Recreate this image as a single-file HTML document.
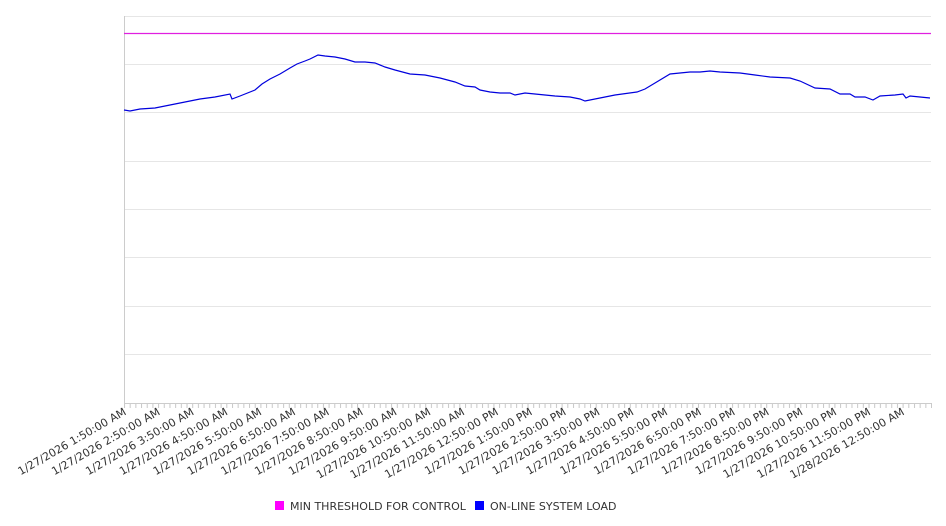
<!DOCTYPE html>
<html><head><meta charset="utf-8"><style>
html,body{margin:0;padding:0;background:#fff;}
svg{display:block;font-family:"DejaVu Sans","Liberation Sans",sans-serif;}
</style></head><body>
<svg width="946" height="526" viewBox="0 0 946 526" xmlns="http://www.w3.org/2000/svg">
<defs>
<pattern id="tp" x="124" y="403" width="5.6833" height="5" patternUnits="userSpaceOnUse">
<rect x="0" y="0" width="1" height="5" fill="#c8c8c8"/>
</pattern>
</defs>
<g stroke="#e6e6e6" stroke-width="1">
<line x1="124" y1="16.5" x2="931" y2="16.5"/>
<line x1="124" y1="64.5" x2="931" y2="64.5"/>
<line x1="124" y1="112.5" x2="931" y2="112.5"/>
<line x1="124" y1="161.5" x2="931" y2="161.5"/>
<line x1="124" y1="209.5" x2="931" y2="209.5"/>
<line x1="124" y1="257.5" x2="931" y2="257.5"/>
<line x1="124" y1="306.5" x2="931" y2="306.5"/>
<line x1="124" y1="354.5" x2="931" y2="354.5"/>
</g>
<line x1="124.5" y1="16" x2="124.5" y2="403" stroke="#ccc"/>
<rect x="124" y="403" width="808" height="5" fill="url(#tp)"/>
<line x1="124" y1="403.5" x2="931" y2="403.5" stroke="#ccc"/>
<line x1="124" y1="33.5" x2="931" y2="33.5" stroke="#e020e0" stroke-width="1.2"/>
<polyline fill="none" stroke="#0000dd" stroke-width="1.2" points="124,110 130,111 140,109 155,108 170,105 185,102 200,99 215,97 230,94 232,99 240,96 255,90 262,84 270,79 280,74 290,68 297,64 305,61 310,59 318,55 325,56 335,57 345,59 355,62 365,62 375,63 385,67 395,70 410,74 425,75 440,78 455,82 465,86 475,87 480,90 490,92 500,93 510,93 515,95 525,93 535,94 545,95 555,96 570,97 580,99 585,101 600,98 615,95 637,92 645,89 655,83 670,74 690,72 700,72 710,71 720,72 740,73 755,75 770,77 790,78 800,81 815,88 830,89 840,94 850,94 855,97 865,97 873,100 880,96 895,95 903,94 906,98 910,96 920,97 930,98"/>
<g font-size="11" fill="#333" text-anchor="end">
<text x="127" y="414" transform="rotate(-30 127 414)">1/27/2026 1:50:00 AM</text>
<text x="160.8" y="414" transform="rotate(-30 160.8 414)">1/27/2026 2:50:00 AM</text>
<text x="194.7" y="414" transform="rotate(-30 194.7 414)">1/27/2026 3:50:00 AM</text>
<text x="228.5" y="414" transform="rotate(-30 228.5 414)">1/27/2026 4:50:00 AM</text>
<text x="262.3" y="414" transform="rotate(-30 262.3 414)">1/27/2026 5:50:00 AM</text>
<text x="296.2" y="414" transform="rotate(-30 296.2 414)">1/27/2026 6:50:00 AM</text>
<text x="330" y="414" transform="rotate(-30 330 414)">1/27/2026 7:50:00 AM</text>
<text x="363.8" y="414" transform="rotate(-30 363.8 414)">1/27/2026 8:50:00 AM</text>
<text x="397.6" y="414" transform="rotate(-30 397.6 414)">1/27/2026 9:50:00 AM</text>
<text x="431.5" y="414" transform="rotate(-30 431.5 414)">1/27/2026 10:50:00 AM</text>
<text x="465.3" y="414" transform="rotate(-30 465.3 414)">1/27/2026 11:50:00 AM</text>
<text x="499.1" y="414" transform="rotate(-30 499.1 414)">1/27/2026 12:50:00 PM</text>
<text x="533" y="414" transform="rotate(-30 533 414)">1/27/2026 1:50:00 PM</text>
<text x="566.8" y="414" transform="rotate(-30 566.8 414)">1/27/2026 2:50:00 PM</text>
<text x="600.6" y="414" transform="rotate(-30 600.6 414)">1/27/2026 3:50:00 PM</text>
<text x="634.5" y="414" transform="rotate(-30 634.5 414)">1/27/2026 4:50:00 PM</text>
<text x="668.3" y="414" transform="rotate(-30 668.3 414)">1/27/2026 5:50:00 PM</text>
<text x="702.1" y="414" transform="rotate(-30 702.1 414)">1/27/2026 6:50:00 PM</text>
<text x="735.9" y="414" transform="rotate(-30 735.9 414)">1/27/2026 7:50:00 PM</text>
<text x="769.8" y="414" transform="rotate(-30 769.8 414)">1/27/2026 8:50:00 PM</text>
<text x="803.6" y="414" transform="rotate(-30 803.6 414)">1/27/2026 9:50:00 PM</text>
<text x="837.4" y="414" transform="rotate(-30 837.4 414)">1/27/2026 10:50:00 PM</text>
<text x="871.3" y="414" transform="rotate(-30 871.3 414)">1/27/2026 11:50:00 PM</text>
<text x="905.1" y="414" transform="rotate(-30 905.1 414)">1/28/2026 12:50:00 AM</text>
</g>
<rect x="275" y="501" width="9" height="9" fill="#ff00ff"/>
<text x="290" y="510" font-size="11" fill="#333">MIN THRESHOLD FOR CONTROL</text>
<rect x="475" y="501" width="9" height="9" fill="#0000ff"/>
<text x="490" y="510" font-size="11" fill="#333">ON-LINE SYSTEM LOAD</text>
</svg>
</body></html>
